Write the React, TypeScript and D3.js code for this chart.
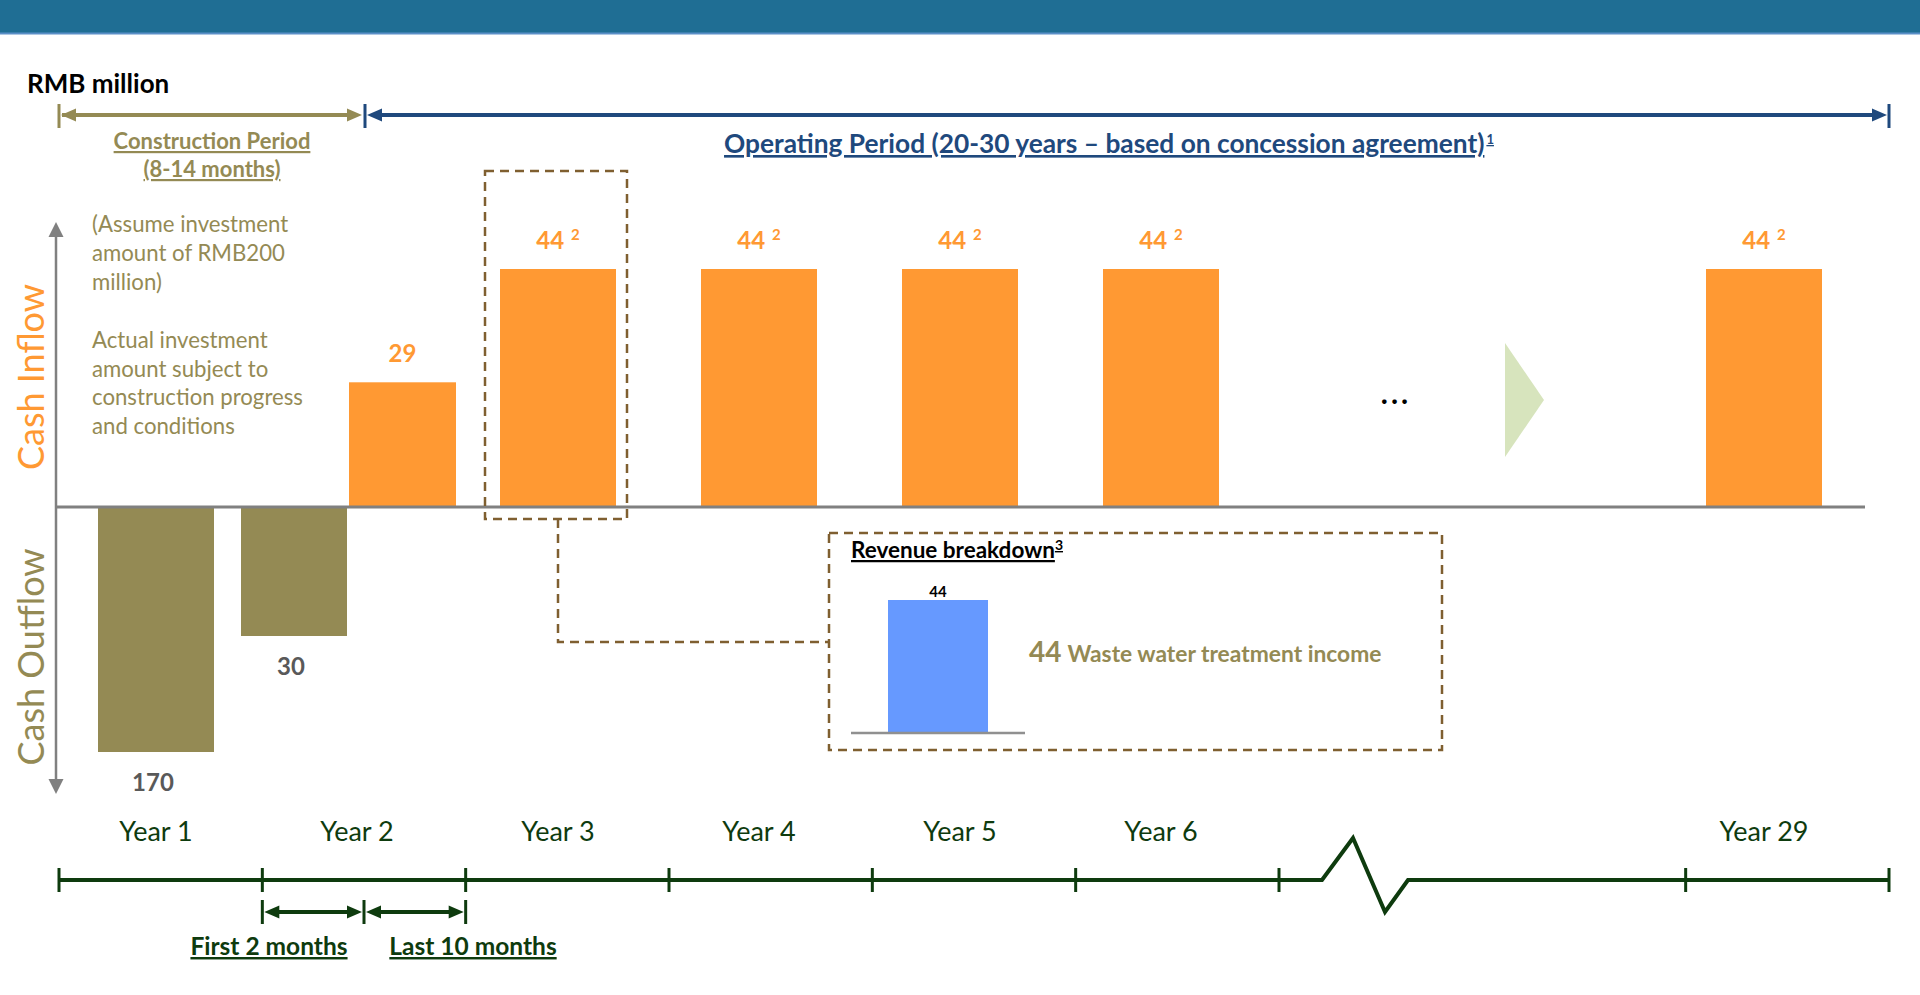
import React from "react";
import * as d3 from "d3";

// slots on the time axis (two empty slots stand for the break)
const slots = ["Year 1", "Year 2", "Year 3", "Year 4", "Year 5", "Year 6", "skip 1", "skip 2", "Year 29"];
const yearLabels = ["Year 1", "Year 2", "Year 3", "Year 4", "Year 5", "Year 6", "Year 29"];

const outflowYears = ["Year 1", "Year 2"];
const outflowValues = [170, 30];

const inflowYears = ["Year 2", "Year 3", "Year 4", "Year 5", "Year 6", "Year 29"];
const inflowValues = [29, 44, 44, 44, 44, 44];
const inflowNotes = ["", "2", "2", "2", "2", "2"];

const revenueItems = ["Waste water treatment income"];
const revenueValues = [44];

const noteBlock1 = ["(Assume investment", "amount of RMB200", "million)"];
const noteBlock2 = ["Actual investment", "amount subject to", "construction progress", "and conditions"];

const OLIVE = "#948A54";
const ORANGE = "#FF9933";
const NAVY = "#1F497D";
const DKGREEN = "#0E3B0E";
const GRAY = "#808080";
const BROWN = "#7F5F30";
const FONT = "Lato, 'Open Sans', sans-serif";

export default function App() {
  const svgRef = React.useRef(null);

  React.useEffect(() => {
    const svg = d3.select(svgRef.current);
    svg.selectAll("*").remove();

    const head = (tx, ty, dir, len, half, color) => {
      let pts;
      if (dir === "left") pts = [[tx, ty], [tx + len, ty - half], [tx + len, ty + half]];
      else if (dir === "right") pts = [[tx, ty], [tx - len, ty - half], [tx - len, ty + half]];
      else if (dir === "up") pts = [[tx, ty], [tx - half, ty + len], [tx + half, ty + len]];
      else pts = [[tx, ty], [tx - half, ty - len], [tx + half, ty - len]];
      svg.append("polygon").attr("points", pts.map(p => p.join(",")).join(" ")).attr("fill", color);
    };
    const line = (x1, y1, x2, y2, color, w) =>
      svg.append("line").attr("x1", x1).attr("y1", y1).attr("x2", x2).attr("y2", y2)
        .attr("stroke", color).attr("stroke-width", w);

    // header band
    svg.append("rect").attr("x", 0).attr("y", 0).attr("width", 1920).attr("height", 33).attr("fill", "#1F6E94");
    line(0, 33.5, 1920, 33.5, "#5B8FC7", 2);

    svg.append("text").attr("x", 27).attr("y", 93).attr("font-family", FONT).attr("font-weight", "bold")
      .attr("font-size", 26).attr("fill", "#000").text("RMB million");

    // construction / operating period arrows
    const topY = 115;
    line(59, 104, 59, 128, OLIVE, 3);
    line(62, topY, 350, topY, OLIVE, 4);
    head(61, topY, "left", 15, 6.5, OLIVE);
    head(362, topY, "right", 15, 6.5, OLIVE);
    line(365, 104, 365, 128, NAVY, 3);
    line(375, topY, 1880, topY, NAVY, 4);
    head(367, topY, "left", 15, 6.5, NAVY);
    head(1887, topY, "right", 15, 6.5, NAVY);
    line(1889, 104, 1889, 128, NAVY, 3);

    const cons = svg.append("g").attr("font-family", FONT).attr("font-weight", "bold").attr("font-size", 22)
      .attr("fill", OLIVE).attr("text-anchor", "middle").attr("text-decoration", "underline");
    cons.append("text").attr("x", 212).attr("y", 149).text("Construction Period");
    cons.append("text").attr("x", 212).attr("y", 177).text("(8-14 months)");

    const op = svg.append("text").attr("x", 1109).attr("y", 153).attr("font-family", FONT).attr("font-weight", "bold")
      .attr("font-size", 26.3).attr("fill", NAVY).attr("text-anchor", "middle").attr("text-decoration", "underline");
    op.append("tspan").text("Operating Period (20-30 years \u2013 based on concession agreement)");
    op.append("tspan").attr("font-size", 13).attr("dx", 2).attr("dy", -9).text("1");

    // scales
    const baseY = 507;
    const xTick = d3.scaleBand().domain(slots).range([59, 1889]);
    const xMid = d3.scalePoint().domain(slots).range([156, 1764]);
    // schematic (not proportional) bar heights, as drawn on the slide
    const hScale = d3.scaleLinear().domain([0, 30, 44, 170]).range([0, 129, 238, 245]);
    const barW = 116;
    const halfW = 107;
    const split = xMid("Year 2") - 9;

    const barX = (year, kind) => {
      if (year === "Year 2") return kind === "out" ? [split - halfW, halfW - 1] : [split + 1, halfW];
      return [xMid(year) - barW / 2, barW];
    };

    // outflow bars
    outflowYears.forEach((yr, i) => {
      const [x0, w] = barX(yr, "out");
      const hh = hScale(outflowValues[i]);
      svg.append("rect").attr("x", x0).attr("y", baseY).attr("width", w).attr("height", hh).attr("fill", OLIVE);
      svg.append("text").attr("x", x0 + w / 2 - 3).attr("y", baseY + hh + 39).attr("text-anchor", "middle")
        .attr("font-family", FONT).attr("font-weight", "bold").attr("font-size", 24).attr("fill", "#595959")
        .text(outflowValues[i]);
    });

    // inflow bars
    inflowYears.forEach((yr, i) => {
      const [x0, w] = barX(yr, "in");
      const hh = hScale(inflowValues[i]);
      svg.append("rect").attr("x", x0).attr("y", baseY - hh).attr("width", w).attr("height", hh).attr("fill", ORANGE);
      const t = svg.append("text").attr("x", x0 + w / 2).attr("y", baseY - hh - 20).attr("text-anchor", "middle")
        .attr("font-family", FONT).attr("font-weight", "bold").attr("font-size", 24).attr("fill", ORANGE);
      t.append("tspan").text(inflowValues[i]);
      if (inflowNotes[i]) t.append("tspan").attr("dx", 7).attr("dy", -9).attr("font-size", 15).text(inflowNotes[i]);
    });

    // zero line + vertical axis
    line(56, baseY, 1865, baseY, GRAY, 3);
    line(56, 234, 56, 782, GRAY, 2.5);
    head(56, 222, "up", 15, 7.5, GRAY);
    head(56, 794, "down", 15, 7.5, GRAY);

    svg.append("text").attr("transform", "translate(44,377) rotate(-90)").attr("text-anchor", "middle")
      .attr("font-family", FONT).attr("font-size", 36).attr("fill", ORANGE).text("Cash Inflow");
    svg.append("text").attr("transform", "translate(44,657) rotate(-90)").attr("text-anchor", "middle")
      .attr("font-family", FONT).attr("font-size", 36).attr("fill", OLIVE).text("Cash Outflow");

    const notes = svg.append("g").attr("font-family", FONT).attr("font-size", 22.2).attr("fill", OLIVE);
    noteBlock1.forEach((s, i) => notes.append("text").attr("x", 92).attr("y", 232 + i * 28.8).text(s));
    noteBlock2.forEach((s, i) => notes.append("text").attr("x", 92).attr("y", 348 + i * 28.7).text(s));

    // break marker
    svg.append("text").attr("x", 1396).attr("y", 404).attr("text-anchor", "middle").attr("font-family", FONT)
      .attr("font-weight", "bold").attr("font-size", 30).attr("letter-spacing", 3).attr("fill", "#000").text("...");
    svg.append("polygon").attr("points", "1505,343 1544,400 1505,457").attr("fill", "#D7E4BD");

    // dashed highlight for year 3 + revenue breakdown
    const dash = "9,6";
    const y3 = barX("Year 3", "in");
    svg.append("rect").attr("x", y3[0] - 15).attr("y", 171).attr("width", y3[1] + 26).attr("height", 348)
      .attr("fill", "none").attr("stroke", BROWN).attr("stroke-width", 2.5).attr("stroke-dasharray", dash);
    svg.append("path").attr("d", `M${y3[0] + y3[1] / 2},519 V642 H829`).attr("fill", "none")
      .attr("stroke", BROWN).attr("stroke-width", 2.5).attr("stroke-dasharray", dash);
    svg.append("rect").attr("x", 829).attr("y", 533).attr("width", 613).attr("height", 217)
      .attr("fill", "none").attr("stroke", BROWN).attr("stroke-width", 2.5).attr("stroke-dasharray", dash);

    const rt = svg.append("text").attr("x", 851).attr("y", 558).attr("font-family", FONT).attr("font-weight", "bold")
      .attr("font-size", 22.5).attr("fill", "#000").attr("text-decoration", "underline");
    rt.append("tspan").text("Revenue breakdown");
    rt.append("tspan").attr("font-size", 14).attr("dy", -8).text("3");

    const rBase = 732;
    const rScale = d3.scaleLinear().domain([0, 44]).range([0, 132]);
    const rx = d3.scaleBand().domain(revenueItems).range([888, 988]);
    revenueItems.forEach((name, i) => {
      const hh = rScale(revenueValues[i]);
      svg.append("rect").attr("x", rx(name)).attr("y", rBase - hh).attr("width", rx.bandwidth()).attr("height", hh)
        .attr("fill", "#6699FF");
      svg.append("text").attr("x", rx(name) + rx.bandwidth() / 2).attr("y", rBase - hh - 3).attr("text-anchor", "middle")
        .attr("font-family", FONT).attr("font-weight", "bold").attr("font-size", 15).attr("fill", "#000")
        .text(revenueValues[i]);
      const lt = svg.append("text").attr("x", 1029).attr("y", 662 + i * 30).attr("font-family", FONT)
        .attr("font-weight", "bold").attr("fill", OLIVE);
      lt.append("tspan").attr("font-size", 28).text(revenueValues[i]);
      lt.append("tspan").attr("font-size", 22.8).attr("dx", 6).text(name);
    });
    line(851, rBase + 1, 1025, rBase + 1, "#909090", 2.5);

    // year labels
    yearLabels.forEach(yr => {
      svg.append("text").attr("x", xMid(yr)).attr("y", 841).attr("text-anchor", "middle").attr("font-family", FONT)
        .attr("font-size", 27).attr("fill", DKGREEN).text(yr);
    });

    // timeline with a break
    const tlY = 880;
    const g0 = xTick("skip 1");
    const tl = d3.line()([
      [59, tlY], [g0 + 43, tlY], [g0 + 74, 838], [g0 + 106, 912], [g0 + 129, tlY], [1889, tlY]
    ]);
    svg.append("path").attr("d", tl).attr("fill", "none").attr("stroke", DKGREEN).attr("stroke-width", 4)
      .attr("stroke-linejoin", "miter");
    const tickXs = slots.filter(s => !s.startsWith("skip 2")).map(s => xTick(s)).concat([1889]);
    tickXs.forEach(x => line(x, 868, x, 892, DKGREEN, 3));

    // first 2 / last 10 months arrows
    const a0 = xTick("Year 2");
    const a1 = a0 + xTick.bandwidth() / 2;
    const a2 = a0 + xTick.bandwidth();
    const subY = 912;
    [a0, a1, a2].forEach(x => line(x, 900, x, 924, DKGREEN, 3));
    [[a0, a1], [a1, a2]].forEach(([s, e]) => {
      line(s + 8, subY, e - 8, subY, DKGREEN, 4);
      head(s + 2, subY, "left", 15, 6.5, DKGREEN);
      head(e - 2, subY, "right", 15, 6.5, DKGREEN);
    });
    const mt = svg.append("g").attr("font-family", FONT).attr("font-weight", "bold").attr("font-size", 24.5)
      .attr("fill", DKGREEN).attr("text-anchor", "middle").attr("text-decoration", "underline");
    mt.append("text").attr("x", 269).attr("y", 955).text("First 2 months");
    mt.append("text").attr("x", 473).attr("y", 955).text("Last 10 months");
  }, []);

  return (
    <svg ref={svgRef} width={1920} height={995}
      style={{ position: "absolute", left: 0, top: 0, background: "#fff" }} />
  );
}
